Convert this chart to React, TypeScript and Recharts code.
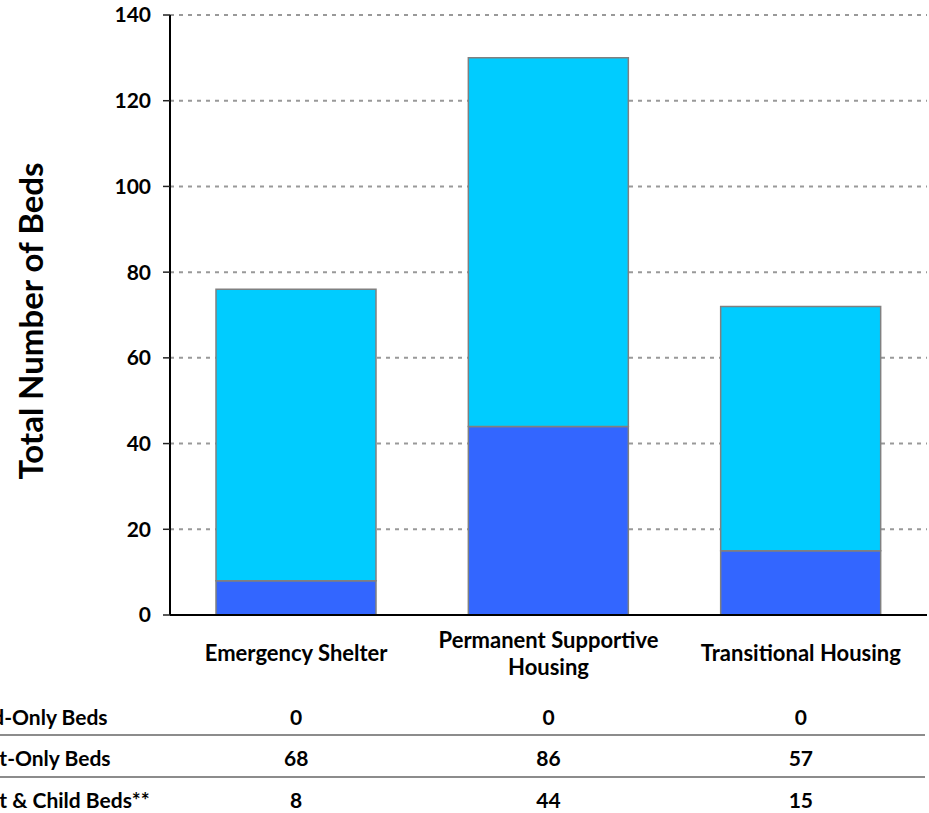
import { BarChart, Bar, XAxis, YAxis, CartesianGrid, Label } from "recharts";

// chart values
const categories = ["Emergency Shelter", "Permanent Supportive Housing", "Transitional Housing"];
const categoryLines = [["Emergency Shelter"], ["Permanent Supportive", "Housing"], ["Transitional Housing"]];
const childOnlyBeds = [0, 0, 0];
const adultOnlyBeds = [68, 86, 57];
const adultChildBeds = [8, 44, 15];
const rowLabels = ["Child-Only Beds", "Adult-Only Beds", "Adult & Child Beds**"];
const yTicks = [0, 20, 40, 60, 80, 100, 120, 140];

const data = categories.map((name, i) => ({
  name,
  childOnly: childOnlyBeds[i],
  adultOnly: adultOnlyBeds[i],
  adultChild: adultChildBeds[i],
}));

const tableRows = [childOnlyBeds, adultOnlyBeds, adultChildBeds];
const FONT = "Lato";
const rowBaselines = [725, 766, 808];

function CategoryTick(props: any) {
  const { x, payload } = props;
  const idx = categories.indexOf(payload.value);
  const lines = categoryLines[idx];
  return (
    <g>
      {lines.map((l, i) => (
        <text
          key={l}
          x={x}
          y={lines.length === 1 ? 661 : 648 + i * 27}
          textAnchor="middle"
          fontFamily={FONT}
          fontWeight="bold"
          fontSize={22}
          fill="#000"
        >
          {l}
        </text>
      ))}
      {tableRows.map((row, r) => (
        <text
          key={r}
          x={x}
          y={rowBaselines[r]}
          textAnchor="middle"
          fontFamily={FONT}
          fontWeight="bold"
          fontSize={21}
          fill="#000"
        >
          {row[idx]}
        </text>
      ))}
      {idx === 0 && (
        <g>
          {rowLabels.map((l, r) => (
            <text key={l} x={-44} y={rowBaselines[r]} fontFamily={FONT} fontWeight="bold" fontSize={21} fill="#000">
              {l}
            </text>
          ))}
          <line x1={0} x2={925} y1={735} y2={735} stroke="#8c8c8c" strokeWidth={2} />
          <line x1={0} x2={925} y1={777} y2={777} stroke="#8c8c8c" strokeWidth={2} />
        </g>
      )}
    </g>
  );
}

function YTitle() {
  return (
    <text
      x={43}
      y={321}
      transform="rotate(-90, 43, 321)"
      textAnchor="middle"
      fontFamily={FONT}
      fontWeight="bold"
      fontSize={33}
      fill="#000"
    >
      Total Number of Beds
    </text>
  );
}

export default function App() {
  return (
    <div style={{ position: "absolute", left: 0, top: 0, width: 929, height: 813, background: "#fff" }}>
      <BarChart width={929} height={813} data={data} margin={{ top: 15, right: 2, bottom: 0, left: 0 }}>
        <CartesianGrid vertical={false} stroke="#999" strokeWidth={2} strokeDasharray="4 5" />
        <XAxis
          dataKey="name"
          height={198}
          axisLine={{ stroke: "#000", strokeWidth: 2 }}
          tickLine={false}
          interval={0}
          tick={<CategoryTick />}
        />
        <YAxis
          width={170}
          domain={[0, 140]}
          ticks={yTicks}
          interval={0}
          axisLine={{ stroke: "#000", strokeWidth: 2 }}
          tickLine={{ stroke: "#222", strokeWidth: 1.5 }}
          tickSize={7}
          tickMargin={12}
          tick={{ fontFamily: FONT, fontWeight: "bold", fontSize: 21, fill: "#000" }}
        >
          <Label content={<YTitle />} />
        </YAxis>
        <Bar dataKey="adultChild" stackId="a" fill="#3366FF" stroke="#808080" strokeWidth={1.5} barSize={160} isAnimationActive={false} />
        <Bar dataKey="adultOnly" stackId="a" fill="#00CCFF" stroke="#808080" strokeWidth={1.5} barSize={160} isAnimationActive={false} />
        <Bar dataKey="childOnly" stackId="a" fill="#99CCFF" stroke="none" barSize={160} isAnimationActive={false} />
      </BarChart>
    </div>
  );
}
